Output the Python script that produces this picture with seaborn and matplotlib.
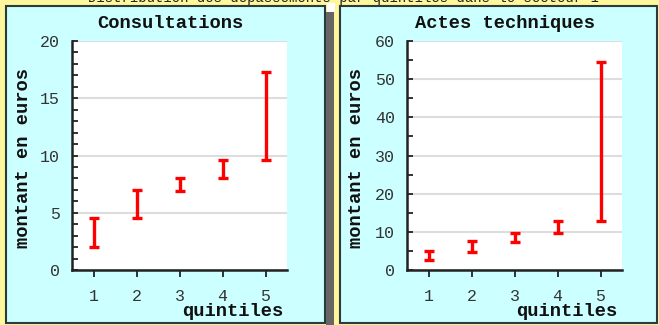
import matplotlib.pyplot as plt
import seaborn as sns
import numpy as np
from matplotlib.patches import Rectangle
from matplotlib.ticker import MultipleLocator

# données : bornes basse / haute par quintile
quintiles = [1, 2, 3, 4, 5]
consult_low = [2.0, 4.5, 6.9, 8.0, 9.6]
consult_high = [4.5, 7.0, 8.0, 9.6, 17.3]
actes_low = [2.5, 4.8, 7.4, 9.7, 12.8]
actes_high = [5.1, 7.7, 9.7, 12.9, 54.4]

sns.set_style("white")
plt.rcParams['font.family'] = ['Liberation Mono', 'DejaVu Sans Mono']

W, H = 659, 325
fig = plt.figure(figsize=(W / 100, H / 100), dpi=100)
fig.patch.set_facecolor("#fff799")


def px(x0, y0, w, h):
    # rectangle en pixels (origine en haut à gauche) -> coordonnées figure
    return (x0 / W, 1 - (y0 + h) / H), w / W, h / H


def panel(x0, y0, w, h, color, edge, lw=1.5):
    (x, y), ww, hh = px(x0, y0, w, h)
    fig.patches.append(Rectangle((x, y), ww, hh, transform=fig.transFigure,
                                 facecolor=color, edgecolor=edge, lw=lw, zorder=-5))


# cadres
panel(6, 6, 319, 317, "#ccffff", "#2b3a3a")
panel(327, 3, 8, 9, "white", "none", 0)
panel(326, 12, 8, 313, "#666666", "none", 0)
panel(340, 6, 317, 317, "#ccffff", "#2b3a3a")

# titre général (coupé en haut, comme sur l'original)
fig.text(343 / W, 1 - 2 / H, "Distribution des dépassements par quintiles dans le secteur 1",
         ha="center", va="baseline", fontsize=10, color="#222222")

configs = [
    (72, "Consultations", 170, 24, 283, consult_low, consult_high, 20, 5, 1),
    (407, "Actes techniques", 505, 357, 617, actes_low, actes_high, 60, 10, 5),
]

for left, title, tx, ylx, xlx, low, high, ymax, major, minor in configs:
    (x, y), w, h = px(left, 41, 215, 229)
    ax = fig.add_axes([x, y, w, h])
    ax.set_facecolor("white")

    low = np.array(low)
    high = np.array(high)
    mid = (low + high) / 2
    ax.errorbar(quintiles, mid, yerr=[mid - low, high - mid], fmt="none",
                ecolor="#ff0000", elinewidth=2.4, capsize=3.5, capthick=2.4)

    ax.set_xlim(0.5, 5.5)
    ax.set_ylim(0, ymax)
    ax.set_xticks(quintiles)
    ax.yaxis.set_major_locator(MultipleLocator(major))
    ax.yaxis.set_minor_locator(MultipleLocator(minor))
    ax.grid(axis="y", which="major", color="#dddddd", lw=1.5)
    ax.set_axisbelow(True)
    sns.despine(ax=ax)
    for s in ["left", "bottom"]:
        ax.spines[s].set_color("#222222")
        ax.spines[s].set_linewidth(1.8)
    ax.tick_params(axis="y", which="both", direction="in", length=4.5, width=1.3,
                   color="#222222", pad=8.5, labelsize=12, labelcolor="#333333", left=True)
    ax.tick_params(axis="x", direction="out", length=5, width=1.3, color="#222222",
                   pad=9, labelsize=12, labelcolor="#333333", bottom=True)

    fig.text(tx / W, 1 - 23 / H, title, ha="center", va="center",
             fontsize=13.5, fontweight="bold", color="#111111")
    fig.text(ylx / W, 1 - 158 / H, "montant en euros", ha="center", va="center",
             rotation=90, fontsize=13.5, fontweight="bold", color="#111111")
    fig.text(xlx / W, 1 - 312 / H, "quintiles", ha="right", va="center",
             fontsize=13.5, fontweight="bold", color="#111111")

fig.savefig("out.png", dpi=100)
